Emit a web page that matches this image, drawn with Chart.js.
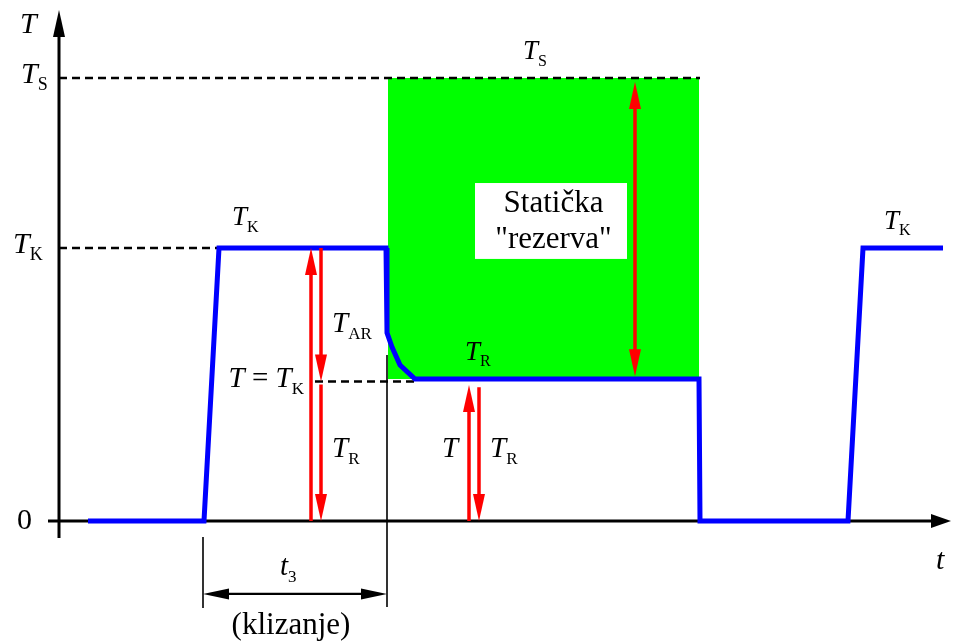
<!DOCTYPE html>
<html><head><meta charset="utf-8">
<script src="https://cdn.jsdelivr.net/npm/chart.js@4"></script>
<style>html,body{margin:0;padding:0;background:#fff;overflow:hidden}</style>
</head><body>
<canvas id="c" width="956" height="644"></canvas>
<script>
// ---- levels (torque, T_K = 1) ----
const T_R = 0.52;
const T_K = 1.0;
const T_S = 1.623;
const T_EQ = 0.511;          // "T = T_K" reading level
// ---- blue torque curve ----
const curveT = [0.29, 1.45, 1.60, 3.27, 3.28, 3.33, 3.41, 3.56, 6.40, 6.41, 7.89, 8.04, 8.84];
const curveV = [0, 0, T_K, T_K, 0.689, 0.637, 0.571, T_R, T_R, 0, 0, T_K, T_K];
// ---- green static reserve span ----
const reserveT = [3.29, 6.40];
// ---- dashed reference lines: [t start, t end, level] ----
const dashTS = [0, 6.41, T_S];
const dashTK = [0, 1.61, T_K];
const dashEq = [2.56, 3.59, T_EQ];
// ---- red arrows: t, from, to ----
const arrowT    = [2.52, 2.62, 2.62, 4.10, 4.20, 5.76];
const arrowFrom = [0,    T_K,  0.50, 0,    0.49, T_R + 0.01];
const arrowTo   = [T_K,  T_EQ, 0,    0.498, 0,   1.608];
const arrowBoth = [false, false, false, false, false, true];
// ---- slip interval t3 ----
const slipStart = 1.44, slipEnd = 3.28;

const FONT = '"Liberation Serif", "Times New Roman", serif';

function pts(ts, vs) { return ts.map((t, i) => ({x: t, y: vs[i]})); }

function head(ctx, tx, ty, dx, dy, len, hw, color) {
  const l = Math.hypot(dx, dy); dx /= l; dy /= l;
  const bx = tx - dx * len, by = ty - dy * len;
  ctx.fillStyle = color;
  ctx.beginPath();
  ctx.moveTo(tx, ty);
  ctx.lineTo(bx - dy * hw, by + dx * hw);
  ctx.lineTo(bx + dy * hw, by - dx * hw);
  ctx.closePath();
  ctx.fill();
}

function label(ctx, segs, x, y, size, align) {
  const sub = Math.round(size * 0.6);
  const font = k => k === 'i' ? `italic ${size}px ${FONT}` : (k === 's' ? `${sub}px ${FONT}` : `${size}px ${FONT}`);
  let total = 0;
  const ws = segs.map(([t, k]) => { ctx.font = font(k); const w = ctx.measureText(t).width; total += w; return w; });
  let cx = x;
  if (align === 'right') cx = x - total;
  if (align === 'center') cx = x - total / 2;
  ctx.fillStyle = '#000';
  ctx.textAlign = 'left';
  ctx.textBaseline = 'alphabetic';
  segs.forEach(([t, k], i) => {
    ctx.font = font(k);
    ctx.fillText(t, cx, k === 's' ? y + size * 0.24 : y);
    cx += ws[i];
  });
}

const axesPlugin = {
  id: 'axes',
  beforeDatasetsDraw(chart) {
    const {ctx, scales: {x, y}} = chart;
    const X = v => x.getPixelForValue(v), Y = v => y.getPixelForValue(v);
    ctx.save();
    ctx.strokeStyle = '#000'; ctx.lineWidth = 3; ctx.lineCap = 'butt';
    // y axis
    ctx.beginPath(); ctx.moveTo(X(0), Y(-0.062)); ctx.lineTo(X(0), Y(1.872) + 20); ctx.stroke();
    head(ctx, X(0), Y(1.872), 0, -1, 27, 6, '#000');
    // x axis
    ctx.beginPath(); ctx.moveTo(X(-0.11), Y(0)); ctx.lineTo(X(8.92) - 15, Y(0)); ctx.stroke();
    head(ctx, X(8.92), Y(0), 1, 0, 20, 7, '#000');
    ctx.restore();
  },
  afterDatasetsDraw(chart) {
    const {ctx, scales: {x, y}} = chart;
    const X = v => x.getPixelForValue(v), Y = v => y.getPixelForValue(v);
    ctx.save();
    // dimension lines for t3
    ctx.strokeStyle = '#000'; ctx.lineWidth = 1.6;
    ctx.beginPath();
    ctx.moveTo(X(slipStart), Y(-0.059)); ctx.lineTo(X(slipStart), Y(-0.319));
    ctx.moveTo(X(slipEnd), Y(0.608)); ctx.lineTo(X(slipEnd), Y(-0.315));
    ctx.stroke();
    const dy = Y(-0.267);
    ctx.lineWidth = 2.2;
    ctx.beginPath(); ctx.moveTo(X(slipStart) + 20, dy); ctx.lineTo(X(slipEnd) - 20, dy); ctx.stroke();
    head(ctx, X(slipStart), dy, -1, 0, 26, 5.5, '#000');
    head(ctx, X(slipEnd), dy, 1, 0, 26, 5.5, '#000');
    // red arrows
    ctx.strokeStyle = '#ff0000'; ctx.lineWidth = 3.5;
    arrowT.forEach((t, i) => {
      const px = X(t), y1 = Y(arrowFrom[i]), y2 = Y(arrowTo[i]);
      const dir = Math.sign(y2 - y1);
      const sy = arrowBoth[i] ? y1 + dir * 20 : y1;
      ctx.beginPath(); ctx.moveTo(px, sy); ctx.lineTo(px, y2 - dir * 20); ctx.stroke();
      head(ctx, px, y2, 0, dir, 27, 6, '#ff0000');
      if (arrowBoth[i]) head(ctx, px, y1, 0, -dir, 27, 6, '#ff0000');
    });
    // white text box
    ctx.fillStyle = '#fff';
    ctx.fillRect(X(4.16), Y(1.238), X(5.68) - X(4.16), Y(0.960) - Y(1.238));
    label(ctx, [['Statička', 'r']], X(4.945), Y(1.132), 31, 'center');
    label(ctx, [['"rezerva"', 'r']], X(4.945), Y(1.0), 31, 'center');
    // labels
    label(ctx, [['T', 'i']], X(-0.39), Y(1.788), 30);
    label(ctx, [['T', 'i'], ['S', 's']], X(-0.38), Y(1.604), 30);
    label(ctx, [['T', 'i'], ['K', 's']], X(-0.46), Y(0.982), 30);
    label(ctx, [['0', 'r']], X(-0.42), Y(-0.029), 30);
    label(ctx, [['T', 'i'], ['S', 's']], X(4.64), Y(1.692), 27);
    label(ctx, [['T', 'i'], ['K', 's']], X(1.73), Y(1.084), 27);
    label(ctx, [['T', 'i'], ['AR', 's']], X(2.73), Y(0.692), 29);
    label(ctx, [['T', 'i'], [' = ', 'r'], ['T', 'i'], ['K', 's']], X(2.45), Y(0.491), 29, 'right');
    label(ctx, [['T', 'i'], ['R', 's']], X(2.73), Y(0.234), 29);
    label(ctx, [['T', 'i'], ['R', 's']], X(4.06), Y(0.590), 27);
    label(ctx, [['T', 'i']], X(3.83), Y(0.234), 29);
    label(ctx, [['T', 'i'], ['R', 's']], X(4.31), Y(0.234), 29);
    label(ctx, [['T', 'i'], ['K', 's']], X(8.25), Y(1.070), 27);
    label(ctx, [['t', 'i']], X(8.77), Y(-0.176), 30);
    label(ctx, [['t', 'i'], ['3', 's']], X(2.21), Y(-0.198), 29);
    label(ctx, [['(klizanje)', 'r']], X(2.32), Y(-0.414), 31, 'center');
    ctx.restore();
  }
};

const dashStyle = {showLine: true, borderColor: '#000', borderWidth: 2.5, borderDash: [8, 5], pointRadius: 0, fill: false};

new Chart(document.getElementById('c'), {
  type: 'scatter',
  data: {
    datasets: [
      {data: pts(curveT, curveV), showLine: true, borderColor: '#0000ff', borderWidth: 5, pointRadius: 0,
       tension: 0, fill: false, borderJoinStyle: 'miter', borderCapStyle: 'butt'},
      {data: [{x: dashTS[0], y: dashTS[2]}, {x: dashTS[1], y: dashTS[2]}], ...dashStyle},
      {data: [{x: dashTK[0], y: dashTK[2]}, {x: dashTK[1], y: dashTK[2]}], ...dashStyle},
      {data: [{x: dashEq[0], y: dashEq[2]}, {x: dashEq[1], y: dashEq[2]}], ...dashStyle},
      {data: reserveT.map(t => ({x: t, y: T_S})), showLine: true, borderColor: 'rgba(0,0,0,0)', borderWidth: 0,
       pointRadius: 0, backgroundColor: '#00ff00', fill: {value: T_R}}
    ]
  },
  options: {
    responsive: false,
    animation: false,
    events: [],
    layout: {padding: 0},
    plugins: {legend: {display: false}, tooltip: {enabled: false}, title: {display: false}},
    scales: {
      x: {type: 'linear', min: -0.59, max: 8.97, display: false},
      y: {type: 'linear', min: -0.4505, max: 1.9084, display: false}
    }
  },
  plugins: [axesPlugin]
});
</script>
</body></html>
